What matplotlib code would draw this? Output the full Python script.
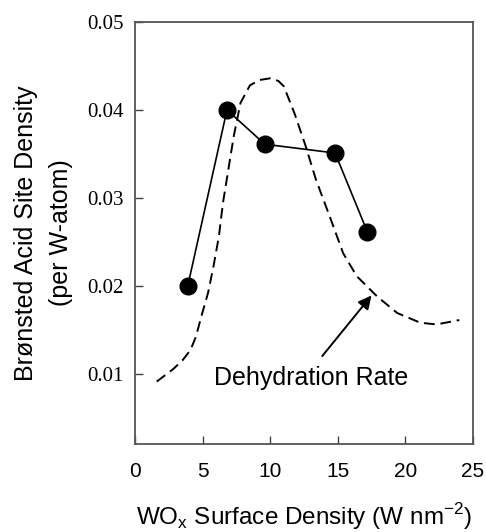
import matplotlib
matplotlib.use('Agg')
import matplotlib.pyplot as plt

# Bronsted acid site density (measured points).
surf_density = [3.9, 6.8, 9.6, 14.8, 17.2]
acid_density = [0.020, 0.040, 0.0361, 0.0351, 0.0261]

# Dehydration rate trend (dashed guide curve).
rate_x = [1.6, 2.8, 3.5, 4.1, 4.5, 4.9, 5.4, 5.8, 6.2, 6.5, 6.9, 7.3, 7.8,
          8.5, 9.2, 10.0, 10.6, 11.0, 11.8, 12.6, 13.4, 14.4, 15.4, 16.4,
          17.9, 19.4, 21.1, 22.3, 24.0]
rate_y = [0.0091, 0.0105, 0.0115, 0.0127, 0.0142, 0.0165, 0.0192, 0.0222,
          0.0256, 0.0294, 0.0332, 0.0370, 0.0408, 0.0428, 0.0434, 0.0436,
          0.0433, 0.0427, 0.0396, 0.0360, 0.0320, 0.0279, 0.0237, 0.0211,
          0.0188, 0.0169, 0.0158, 0.0156, 0.0161]

x_ticks = [0, 5, 10, 15, 20, 25]
y_ticks = [0.01, 0.02, 0.03, 0.04, 0.05]

sans = 'Liberation Sans'
serif = 'Liberation Serif'

fig = plt.figure(figsize=(4.86, 5.32), dpi=100)
ax = fig.add_axes([0.278, 0.1654, 0.695, 0.7932])

# Dashed rate curve.
ax.plot(rate_x, rate_y, color='black', linewidth=1.4,
        linestyle=(0, (5.5, 3)), solid_joinstyle='round')

# Acid site points.
ax.plot(surf_density, acid_density, color='black', linewidth=1.2,
        marker='o', markersize=12, markerfacecolor='black')

# Label with arrow.
ax.text(13.0, 0.0095, 'Dehydration Rate', ha='center', va='center',
        fontsize=18, family=sans)
ax.annotate('', xy=(17.5, 0.0189), xytext=(13.85, 0.0120),
            arrowprops=dict(arrowstyle='-|>', color='black', lw=1.4,
                            mutation_scale=20, shrinkA=0, shrinkB=0))

# Axes.
ax.set_xlim(0, 25)
ax.set_ylim(0.002, 0.05)
ax.set_xticks(x_ticks)
ax.set_yticks(y_ticks)
ax.set_yticklabels(['%.2f' % v for v in y_ticks], family=serif, fontsize=15)
ax.set_xticklabels([str(v) for v in x_ticks], family=sans, fontsize=15)
ax.tick_params(axis='both', direction='in', length=6, width=1.0, color='#444444')
ax.tick_params(axis='x', pad=13)
ax.tick_params(axis='y', pad=8)
for s in ax.spines.values():
    s.set_linewidth(1.3)
    s.set_color('#555555')

ax.set_xlabel(r'WO$_\mathregular{x}$ Surface Density (W nm$^\mathregular{-2}$)',
              family=sans, fontsize=17.5)
ax.xaxis.set_label_coords(0.5, -0.135)
ax.set_ylabel('Br\u00f8nsted Acid Site Density\n(per W-atom)', family=sans,
              fontsize=18, linespacing=1.55)
ax.yaxis.set_label_coords(-0.185, 0.5)

fig.savefig('out.png', dpi=100)
